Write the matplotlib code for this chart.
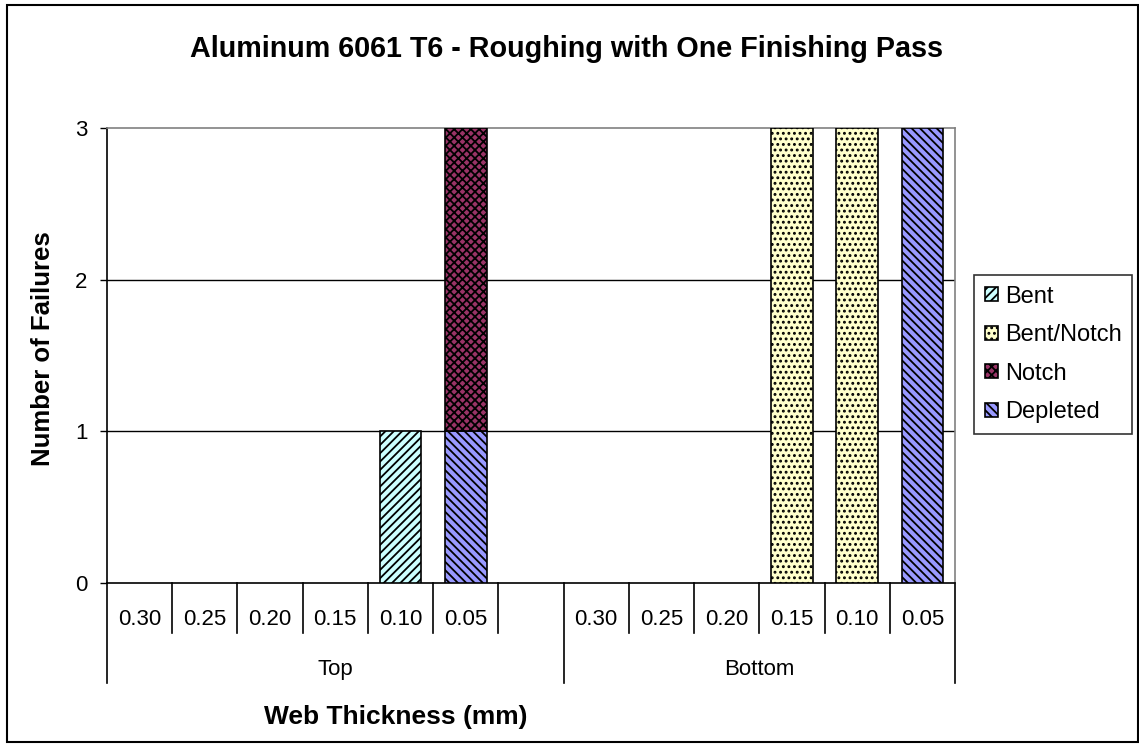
import numpy as np
import matplotlib
matplotlib.use("Agg")
import matplotlib.pyplot as plt
from matplotlib.patches import Rectangle

plt.rcParams['font.family'] = ['Liberation Sans', 'DejaVu Sans']
plt.rcParams['hatch.linewidth'] = 1.3

# data
thickness = ['0.30', '0.25', '0.20', '0.15', '0.10', '0.05', '',
             '0.30', '0.25', '0.20', '0.15', '0.10', '0.05']
groups = ['Top', 'Bottom']
group_sizes = [7, 6]

depleted = [0, 0, 0, 0, 0, 1, 0, 0, 0, 0, 0, 0, 3]
bent = [0, 0, 0, 0, 1, 0, 0, 0, 0, 0, 0, 0, 0]
bent_notch = [0, 0, 0, 0, 0, 0, 0, 0, 0, 0, 3, 3, 0]
notch = [0, 0, 0, 0, 0, 2, 0, 0, 0, 0, 0, 0, 0]

series = [
    ('Bent', bent, '#CCFFFF', '////'),
    ('Bent/Notch', bent_notch, '#FFFFCC', '...'),
    ('Notch', notch, '#993366', 'xxxx'),
    ('Depleted', depleted, '#9999FF', '\\\\\\\\'),
]
stack_order = ['Depleted', 'Bent', 'Bent/Notch', 'Notch']

fig = plt.figure(figsize=(11.39, 7.5), dpi=100)
ax = fig.add_axes([107 / 1139, 1 - 583 / 750, 848 / 1139, 455 / 750])

x = np.arange(len(thickness))
bottom = np.zeros(len(thickness))
handles = {}
lookup = {s[0]: s for s in series}
for name in stack_order:
    _, vals, color, hatch = lookup[name]
    vals = np.array(vals, dtype=float)
    mask = vals > 0
    bars = ax.bar(x[mask], vals[mask], bottom=bottom[mask], width=0.64,
                  color=color, edgecolor='black', hatch=hatch, linewidth=1.2,
                  zorder=3, label=name)
    handles[name] = bars
    bottom += vals

ax.set_xlim(-0.5, len(thickness) - 0.5)
ax.set_ylim(0, 3)
ax.set_yticks([0, 1, 2, 3])
ax.tick_params(axis='y', direction='out', length=5, width=1, pad=9, labelsize=16)
ax.set_xticks([])

for y in [1, 2]:
    ax.axhline(y, color='black', linewidth=1, zorder=1)

ax.spines['left'].set_color('black')
ax.spines['bottom'].set_color('black')
ax.spines['top'].set_color('#808080')
ax.spines['right'].set_color('#808080')
for sp in ax.spines.values():
    sp.set_linewidth(1.2)

# two-level category axis
trans = ax.get_xaxis_transform()
for i, lab in enumerate(thickness):
    ax.text(i, -0.08, lab, transform=trans, ha='center', va='center', fontsize=16)

edges = np.cumsum([0] + group_sizes) - 0.5
for b in np.arange(len(thickness) + 1) - 0.5:
    long = np.isclose(edges, b).any()
    ax.plot([b, b], [0, -0.22 if long else -0.11], transform=trans,
            color='black', linewidth=1.2, clip_on=False)
for g, lo, hi in zip(groups, edges[:-1], edges[1:]):
    ax.text((lo + hi) / 2, -0.19, g, transform=trans, ha='center', va='center', fontsize=16)

fig.text(0.497, 1 - 49 / 750, 'Aluminum 6061 T6 - Roughing with One Finishing Pass',
         ha='center', va='center', fontsize=20.7, fontweight='bold')
fig.text(396 / 1139, 1 - 717 / 750, 'Web Thickness (mm)', ha='center', va='center',
         fontsize=19, fontweight='bold')
fig.text(43 / 1139, 1 - 349 / 750, 'Number of Failures', ha='center', va='center',
         rotation=90, fontsize=18.5, fontweight='bold')

leg = fig.legend([handles[s[0]] for s in series], [s[0] for s in series],
                 loc='upper left', bbox_to_anchor=(974 / 1139, 1 - 275 / 750),
                 fontsize=17, frameon=True, fancybox=False, handlelength=0.55,
                 handleheight=0.55, handletextpad=0.3, labelspacing=0.7,
                 borderpad=0.45, borderaxespad=0)
leg.get_frame().set_edgecolor('black')
leg.get_frame().set_linewidth(1.2)

fig.patches.append(Rectangle((7 / 1139, 1 - 742 / 750), 1131 / 1139, 737 / 750,
                             transform=fig.transFigure, fill=False,
                             edgecolor='black', linewidth=1.5))

fig.savefig('out.png', dpi=100)
